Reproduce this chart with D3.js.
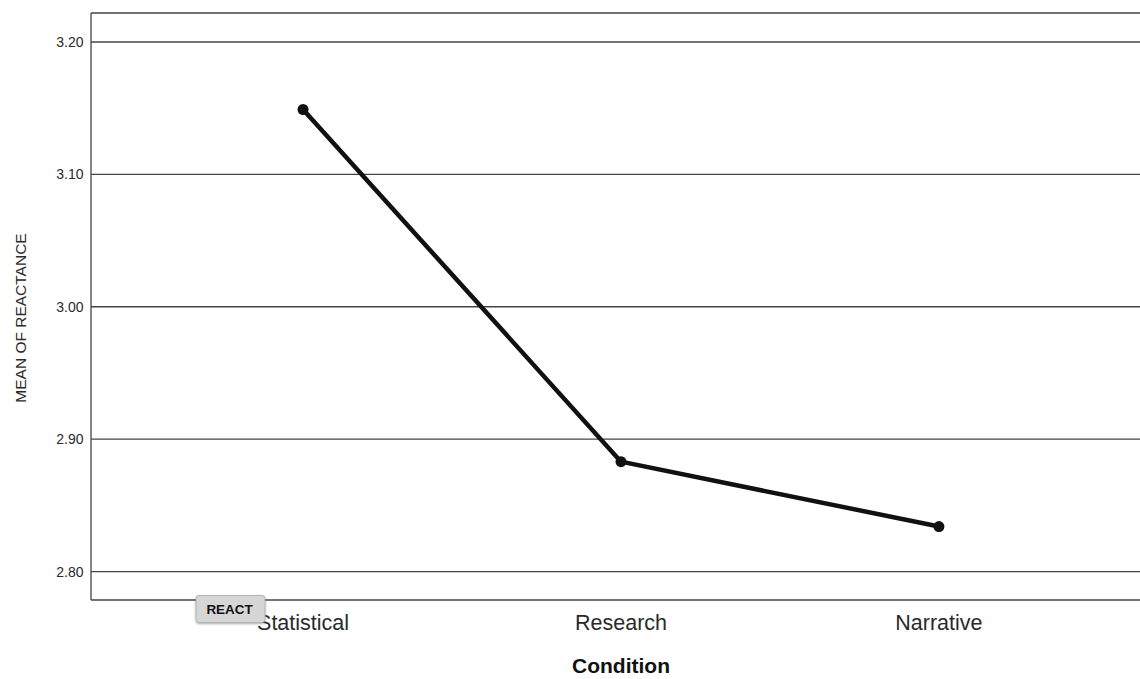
<!DOCTYPE html>
<html><head><meta charset="utf-8">
<script src="https://cdn.jsdelivr.net/npm/d3@7/dist/d3.min.js"></script>
<style>body{margin:0;background:#fff;} svg{display:block;}</style>
</head><body>
<svg id="c" width="1140" height="679"></svg>
<script>
const categories = ["Statistical", "Research", "Narrative"];
const values = [3.149, 2.883, 2.834];
const yTicks = [2.80, 2.90, 3.00, 3.10, 3.20];
const yLabel = "MEAN OF REACTANCE";
const xLabel = "Condition";
const badge = "REACT";

const svg = d3.select("#c");
const L = 91, T = 13, B = 600, R = 1151;
const y = d3.scaleLinear().domain([2.7785, 3.2219]).range([B, T]);
const x = d3.scalePoint().domain(categories).range([L, R]).padding(0.667);

const font = "'Liberation Sans', Arial, sans-serif";

// gridlines
svg.append("g").selectAll("line").data(yTicks).join("line")
  .attr("x1", L).attr("x2", 1140)
  .attr("y1", d => y(d)).attr("y2", d => y(d))
  .attr("stroke", "#444").attr("stroke-width", 1.3);

// frame
svg.append("line").attr("x1", L).attr("x2", 1140).attr("y1", T).attr("y2", T).attr("stroke", "#444").attr("stroke-width", 1.3);
svg.append("line").attr("x1", L).attr("x2", 1140).attr("y1", B).attr("y2", B).attr("stroke", "#444").attr("stroke-width", 1.3);
svg.append("line").attr("x1", L).attr("x2", L).attr("y1", T).attr("y2", B).attr("stroke", "#444").attr("stroke-width", 1.3);

// y tick labels
svg.append("g").selectAll("text").data(yTicks).join("text")
  .attr("x", 83.5).attr("y", d => y(d)).attr("dy", "0.36em")
  .attr("text-anchor", "end").attr("font-family", font).attr("font-size", 14)
  .attr("fill", "#2a2a2a").text(d => d.toFixed(2));

// x category labels
svg.append("g").selectAll("text").data(categories).join("text")
  .attr("x", d => x(d)).attr("y", 630)
  .attr("text-anchor", "middle").attr("font-family", font).attr("font-size", 21.5)
  .attr("fill", "#2a2a2a").text(d => d);

// axis titles
svg.append("text").attr("transform", `translate(21,318) rotate(-90)`)
  .attr("dy", "0.35em")
  .attr("text-anchor", "middle").attr("font-family", font).attr("font-size", 15.5)
  .attr("fill", "#2a2a2a").text(yLabel);
svg.append("text").attr("x", 621).attr("y", 673)
  .attr("text-anchor", "middle").attr("font-family", font).attr("font-size", 21)
  .attr("font-weight", "bold").attr("fill", "#111").text(xLabel);

// line
const pts = categories.map((c, i) => [x(c), y(values[i])]);
svg.append("path").attr("d", d3.line()(pts)).attr("fill", "none")
  .attr("stroke", "#111").attr("stroke-width", 4.5).attr("stroke-linejoin", "round");
svg.append("g").selectAll("circle").data(pts).join("circle")
  .attr("cx", d => d[0]).attr("cy", d => d[1]).attr("r", 5.5).attr("fill", "#111");

// badge
const defs = svg.append("defs");
const f = defs.append("filter").attr("id", "sh").attr("x", "-20%").attr("y", "-20%").attr("width", "140%").attr("height", "160%");
f.append("feDropShadow").attr("dx", 0).attr("dy", 1).attr("stdDeviation", 1.2).attr("flood-color", "#000").attr("flood-opacity", 0.35);
svg.append("rect").attr("x", 196).attr("y", 595.5).attr("width", 69).attr("height", 27).attr("rx", 3)
  .attr("fill", "#d6d6d6").attr("stroke", "#aaa").attr("stroke-width", 0.8).attr("filter", "url(#sh)");
svg.append("text").attr("x", 229.5).attr("y", 613.5).attr("text-anchor", "middle")
  .attr("font-family", font).attr("font-size", 13.4).attr("font-weight", "bold").attr("fill", "#111").text(badge);
</script>
</body></html>
